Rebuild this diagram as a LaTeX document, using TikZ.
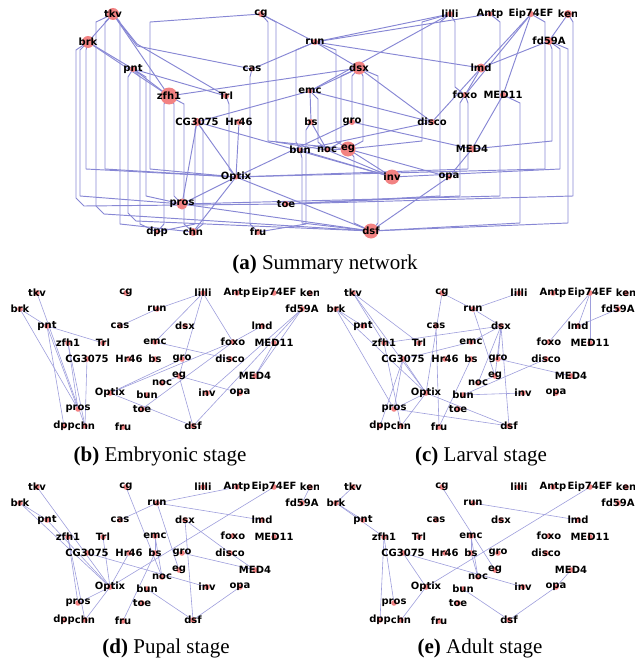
\documentclass[tikz,border=0pt]{standalone}
\usepackage{fontspec}
\newfontfamily\lblfont{DejaVu Sans}
\newfontfamily\capfont{Liberation Serif}
\usetikzlibrary{calc}
\pgfdeclarelayer{edgelayer}
\pgfdeclarelayer{dotlayer}
\pgfsetlayers{edgelayer,dotlayer,main}
\definecolor{edgeA}{RGB}{135,135,212}
\definecolor{edgeS}{RGB}{158,158,220}
\definecolor{pinkdot}{RGB}{242,130,130}
\tikzset{
  lb/.style={font=\lblfont\bfseries\fontsize{10}{11}\selectfont, inner sep=0pt, text=black},
  aedge/.style={draw=edgeA, line width=0.95pt, line join=round},
  sedge/.style={draw=edgeS, line width=0.6pt},
  captxt/.style={font=\capfont\fontsize{21}{25}\selectfont, anchor=base, inner sep=0pt},
}
% panel (a) connectors
\newcommand\ED[2]{\draw[aedge] (a-#1.center) -- (a-#2.center);}
\newcommand\ER[3]{\draw[aedge] let \p1=(a-#1.center), \p2=(a-#2.center) in (\p1) -- (#3pt,\y1-8pt) -- (#3pt,\y2+8pt) -- (\p2);}
\newcommand\EB[5]{\draw[aedge] let \p1=(a-#1.center) in (\p1) -- (#3pt,\y1-8pt) -- (#3pt,{-#4pt+8pt}) -- ({#3pt+(#5pt)},-#4pt) -- (a-#2.center);}
% stage panels
\newcommand\SE[3]{\draw[sedge] (#1-#2.center) -- (#1-#3.center);}
\newcommand\stagenodes[1]{%
  \node[lb] (#1-tkv) at (37,293) {tkv};
  \node[lb] (#1-cg) at (126,293) {cg};
  \node[lb] (#1-lilli) at (203,293) {lilli};
  \node[lb] (#1-Antp) at (237,293) {Antp};
  \node[lb] (#1-Eip) at (274,293) {Eip74EF};
  \begin{scope}\clip (296,282) rectangle (318,304); \node[lb] (#1-ken) at (310,293) {ken};\end{scope}
  \node[lb] (#1-brk) at (20,309) {brk};
  \node[lb] (#1-run) at (157,309) {run};
  \node[lb] (#1-fd59A) at (302,309) {fd59A};
  \node[lb] (#1-pnt) at (47,326) {pnt};
  \node[lb] (#1-cas) at (120,326) {cas};
  \node[lb] (#1-dsx) at (185,326) {dsx};
  \node[lb] (#1-lmd) at (262,326) {lmd};
  \node[lb] (#1-zfh1) at (68,343) {zfh1};
  \node[lb] (#1-Trl) at (103,343) {Trl};
  \node[lb] (#1-emc) at (155,342) {emc};
  \node[lb] (#1-foxo) at (233,342) {foxo};
  \node[lb] (#1-MED11) at (274,343) {MED11};
  \node[lb] (#1-CG3075) at (87,359) {CG3075};
  \node[lb] (#1-Hr46) at (129,359) {Hr46};
  \node[lb] (#1-bs) at (155,359) {bs};
  \node[lb] (#1-gro) at (182,359) {gro};
  \node[lb] (#1-disco) at (230,359) {disco};
  \node[lb] (#1-eg) at (179,376) {eg};
  \node[lb] (#1-noc) at (162,383) {noc};
  \node[lb] (#1-MED4) at (255,376) {MED4};
  \node[lb] (#1-Optix) at (110,393) {Optix};
  \node[lb] (#1-bun) at (147,395) {bun};
  \node[lb] (#1-inv) at (207,393) {inv};
  \node[lb] (#1-opa) at (240,393) {opa};
  \node[lb] (#1-pros) at (78,409) {pros};
  \node[lb] (#1-toe) at (142,409) {toe};
  \node[lb] (#1-dpp) at (64,426) {dpp};
  \node[lb] (#1-chn) at (85,426) {chn};
  \node[lb] (#1-fru) at (123,427) {fru};
  \node[lb] (#1-dsf) at (193,426) {dsf};
}
\newcommand\stagedots[1]{%
  \foreach \n in {tkv,cg,lilli,Antp,Eip,ken,brk,run,fd59A,pnt,cas,dsx,lmd,zfh1,Trl,emc,foxo,MED11,CG3075,Hr46,bs,gro,disco,eg,noc,MED4,Optix,bun,inv,opa,pros,toe,dpp,chn,fru,dsf}
    {\fill[pinkdot] (#1-\n.center) circle (2.8pt);}
}
\begin{document}
\begin{tikzpicture}[x=1pt,y=-1pt]
\useasboundingbox (0,0) rectangle (639,661);
% ---------------- panel (a): nodes
\node[lb] (a-tkv) at (113,14) {tkv};
\node[lb] (a-cg) at (261,14) {cg};
\node[lb] (a-lilli) at (450,14) {lilli};
\node[lb] (a-Antp) at (490,14) {Antp};
\node[lb] (a-Eip) at (531,14) {Eip74EF};
\begin{scope}\clip (552,2) rectangle (576,28); \node[lb] (a-ken) at (568,14) {ken};\end{scope}
\node[lb] (a-brk) at (88,42) {brk};
\node[lb] (a-run) at (315,42) {run};
\node[lb] (a-fd59A) at (549,41) {fd59A};
\node[lb] (a-pnt) at (133,69) {pnt};
\node[lb] (a-cas) at (252,69) {cas};
\node[lb] (a-dsx) at (359,68) {dsx};
\node[lb] (a-lmd) at (481,68) {lmd};
\node[lb] (a-zfh1) at (169,96) {zfh1};
\node[lb] (a-Trl) at (226,96) {Trl};
\node[lb] (a-emc) at (310,91) {emc};
\node[lb] (a-foxo) at (465,95) {foxo};
\node[lb] (a-MED11) at (503,95) {MED11};
\node[lb] (a-CG3075) at (197,122) {CG3075};
\node[lb] (a-Hr46) at (239,122) {Hr46};
\node[lb] (a-bs) at (311,122) {bs};
\node[lb] (a-gro) at (352,122) {gro};
\node[lb] (a-disco) at (432,122) {disco};
\node[lb] (a-bun) at (300,150) {bun};
\node[lb] (a-noc) at (327,150) {noc};
\node[lb] (a-eg) at (348,149) {eg};
\node[lb] (a-MED4) at (472,149) {MED4};
\node[lb] (a-Optix) at (236,177) {Optix};
\node[lb] (a-inv) at (392,177) {inv};
\node[lb] (a-opa) at (449,177) {opa};
\node[lb] (a-pros) at (182,204) {pros};
\node[lb] (a-toe) at (286,204) {toe};
\node[lb] (a-dpp) at (157,232) {dpp};
\node[lb] (a-chn) at (193,232) {chn};
\node[lb] (a-fru) at (258,232) {fru};
\node[lb] (a-dsf) at (371,231) {dsf};
% ---------------- stage panels: nodes
\stagenodes{b}
\begin{scope}[shift={(316,0)}]\stagenodes{c}\end{scope}
\begin{scope}[shift={(0,194)}]\stagenodes{d}\end{scope}
\begin{scope}[shift={(316,194)}]\stagenodes{e}\end{scope}
% ---------------- captions
\node[captxt] (capa) at (325,269) {\textbf{(a)} Summary network};
\node[captxt] (capb) at (160,461) {\textbf{(b)} Embryonic stage};
\node[captxt] (capc) at (481,461) {\textbf{(c)} Larval stage};
\node[captxt] (capd) at (166,653) {\textbf{(d)} Pupal stage};
\node[captxt] (cape) at (480,653) {\textbf{(e)} Adult stage};
% ---------------- pink markers
\begin{pgfonlayer}{dotlayer}
\foreach \n/\r in {tkv/6,brk/6,zfh1/8.5,dsx/6.5,eg/7.5,inv/7.5,dsf/7.5,pros/5.5,CG3075/4,lmd/4.5,chn/4,fd59A/4,ken/4,MED4/3.5,MED11/3,Eip/3,lilli/3,Antp/2.5,cg/3,run/3,pnt/3,cas/2.5,Trl/3,emc/2.5,foxo/3,Hr46/3,bs/3,gro/3,disco/3,bun/2.5,noc/2.5,Optix/2.5,opa/2.5,toe/3,dpp/2.5,fru/3}
  {\fill[pinkdot] (a-\n.center) circle (\r pt);}
\stagedots{b}\stagedots{c}\stagedots{d}\stagedots{e}
\end{pgfonlayer}
% ---------------- connectors
\begin{pgfonlayer}{edgelayer}
% panel (a) direct
\ED{tkv}{brk} \ED{brk}{pnt} \ED{pnt}{Trl} \ED{pnt}{zfh1} \ED{zfh1}{dsx}
\ED{CG3075}{emc} \ED{CG3075}{Optix} \ED{CG3075}{pros} \ED{CG3075}{inv}
\ED{Hr46}{Optix} \ED{cas}{run} \ED{cg}{run} \ED{run}{lilli} \ED{run}{Antp}
\ED{run}{lmd} \ED{run}{dsx} \ED{lilli}{emc} \ED{emc}{disco} \ED{emc}{bs}
\ED{dsx}{emc} \ED{dsx}{disco} \ED{bs}{noc} \ED{gro}{MED4} \ED{gro}{Optix}
\ED{Eip}{lmd} \ED{fd59A}{lmd} \ED{ken}{fd59A} \ED{lmd}{foxo} \ED{lmd}{disco}
\ED{disco}{bun} \ED{MED4}{opa} \ED{eg}{opa} \ED{eg}{inv} \ED{noc}{eg}
\ED{noc}{inv} \ED{bun}{inv} \ED{Optix}{dsf} \ED{Optix}{chn} \ED{Optix}{pros}
\ED{opa}{dsf} \ED{pros}{dsf} \ED{MED11}{MED4} \ED{Eip}{MED11} \ED{Eip}{foxo}
\ED{tkv}{zfh1} \ED{brk}{zfh1}
\draw[aedge] (a-tkv.center) -- (137,44) -- (a-Trl.center);
\draw[aedge] (a-tkv.center) -- (137,46) -- (a-cas.center);
% panel (a) laned
\ER{tkv}{chn}{120} \ER{tkv}{Optix}{105} \ER{brk}{pros}{80} \ER{brk}{Optix}{86}
\ER{pnt}{dpp}{140} \ER{pnt}{pros}{146} \ER{zfh1}{pros}{174} \ER{zfh1}{chn}{184}
\ER{zfh1}{dpp}{164} \ER{CG3075}{chn}{203} \ER{CG3075}{dpp}{195} \ER{Trl}{Optix}{229}
\ER{cas}{fru}{250} \ER{cg}{Optix}{150} \ER{cg}{noc}{276} \ER{cg}{eg}{268}
\ER{run}{eg}{336} \ER{run}{bun}{296} \ER{lilli}{eg}{422} \ER{lilli}{foxo}{455}
\ER{emc}{noc}{318} \ER{dsx}{noc}{341} \ER{dsx}{gro}{352} \ER{dsx}{eg}{363}
\ER{dsx}{dsf}{378} \ER{bs}{fru}{306} \ER{Eip}{Optix}{545} \ER{fd59A}{MED4}{552}
\ER{fd59A}{dsf}{568} \ER{fd59A}{inv}{560} \ER{foxo}{Optix}{468} \ER{foxo}{toe}{460}
\ER{eg}{dsf}{354} \ER{bun}{dsf}{302} \ER{lilli}{toe}{440} \ER{Antp}{pros}{500}
\ER{ken}{toe}{573} \ER{MED11}{dsf}{520}
\EB{brk}{toe}{76}{206}{8}
\EB{tkv}{dsf}{96}{214}{8}
\EB{pnt}{dsf}{128}{221}{8}
% panel (b)
\SE{b}{tkv}{chn} \SE{b}{brk}{pnt} \SE{b}{brk}{pros} \SE{b}{pnt}{Trl} \SE{b}{pnt}{dpp}
\SE{b}{pnt}{pros} \SE{b}{zfh1}{pros} \SE{b}{zfh1}{chn} \SE{b}{CG3075}{chn}
\SE{b}{cas}{run} \SE{b}{run}{lilli} \SE{b}{lilli}{emc} \SE{b}{lilli}{eg}
\SE{b}{lilli}{foxo} \SE{b}{emc}{disco} \SE{b}{foxo}{Optix} \SE{b}{foxo}{toe}
\SE{b}{lmd}{foxo} \SE{b}{fd59A}{MED4} \SE{b}{fd59A}{dsf} \SE{b}{fd59A}{inv}
\SE{b}{MED11}{MED4} \SE{b}{eg}{dsf} \SE{b}{eg}{opa} \SE{b}{noc}{eg}
\SE{b}{Optix}{dsf} \SE{b}{gro}{Optix}
% panel (c)
\SE{c}{tkv}{zfh1} \SE{c}{tkv}{Optix} \SE{c}{tkv}{Trl} \SE{c}{brk}{pnt} \SE{c}{brk}{Optix}
\SE{c}{brk}{pros} \SE{c}{zfh1}{dsx} \SE{c}{CG3075}{emc} \SE{c}{CG3075}{Optix}
\SE{c}{CG3075}{pros} \SE{c}{CG3075}{dpp} \SE{c}{zfh1}{chn} \SE{c}{Optix}{chn}
\SE{c}{Optix}{pros} \SE{c}{cg}{run} \SE{c}{cg}{Optix} \SE{c}{cas}{fru}
\SE{c}{run}{lilli} \SE{c}{run}{dsx} \SE{c}{run}{eg} \SE{c}{dsx}{emc} \SE{c}{dsx}{noc}
\SE{c}{dsx}{gro} \SE{c}{dsx}{eg} \SE{c}{dsx}{dsf} \SE{c}{bs}{fru} \SE{c}{gro}{MED4}
\SE{c}{Eip}{lmd} \SE{c}{Eip}{MED11} \SE{c}{Eip}{foxo} \SE{c}{fd59A}{lmd}
\SE{c}{bun}{disco} \SE{c}{bun}{inv} \SE{c}{pros}{dsf} \SE{c}{Optix}{dsf} \SE{c}{noc}{eg}
% panel (d)
\SE{d}{tkv}{Optix} \SE{d}{brk}{pnt} \SE{d}{brk}{Optix} \SE{d}{pnt}{Optix}
\SE{d}{zfh1}{pros} \SE{d}{zfh1}{chn} \SE{d}{Trl}{Optix} \SE{d}{Hr46}{Optix}
\SE{d}{CG3075}{inv} \SE{d}{Optix}{chn} \SE{d}{Optix}{pros} \SE{d}{Optix}{Eip}
\SE{d}{cg}{noc} \SE{d}{run}{cas} \SE{d}{run}{Antp} \SE{d}{run}{lmd} \SE{d}{run}{eg}
\SE{d}{dsx}{dsf} \SE{d}{dsx}{disco} \SE{d}{bs}{fru} \SE{d}{emc}{bs} \SE{d}{emc}{noc}
\SE{d}{gro}{MED4} \SE{d}{bun}{dsf} \SE{d}{opa}{dsf} \SE{d}{disco}{MED4} \SE{d}{ken}{fd59A}
% panel (e)
\SE{e}{tkv}{brk} \SE{e}{brk}{pnt} \SE{e}{brk}{zfh1} \SE{e}{zfh1}{dpp} \SE{e}{zfh1}{pros}
\SE{e}{CG3075}{inv} \SE{e}{CG3075}{Optix} \SE{e}{cg}{eg} \SE{e}{run}{lmd}
\SE{e}{emc}{bs} \SE{e}{emc}{noc} \SE{e}{bs}{noc} \SE{e}{Eip}{Optix} \SE{e}{Optix}{chn}
\SE{e}{bun}{dsf} \SE{e}{opa}{dsf} \SE{e}{MED4}{opa}
\end{pgfonlayer}
\end{tikzpicture}
\end{document}
